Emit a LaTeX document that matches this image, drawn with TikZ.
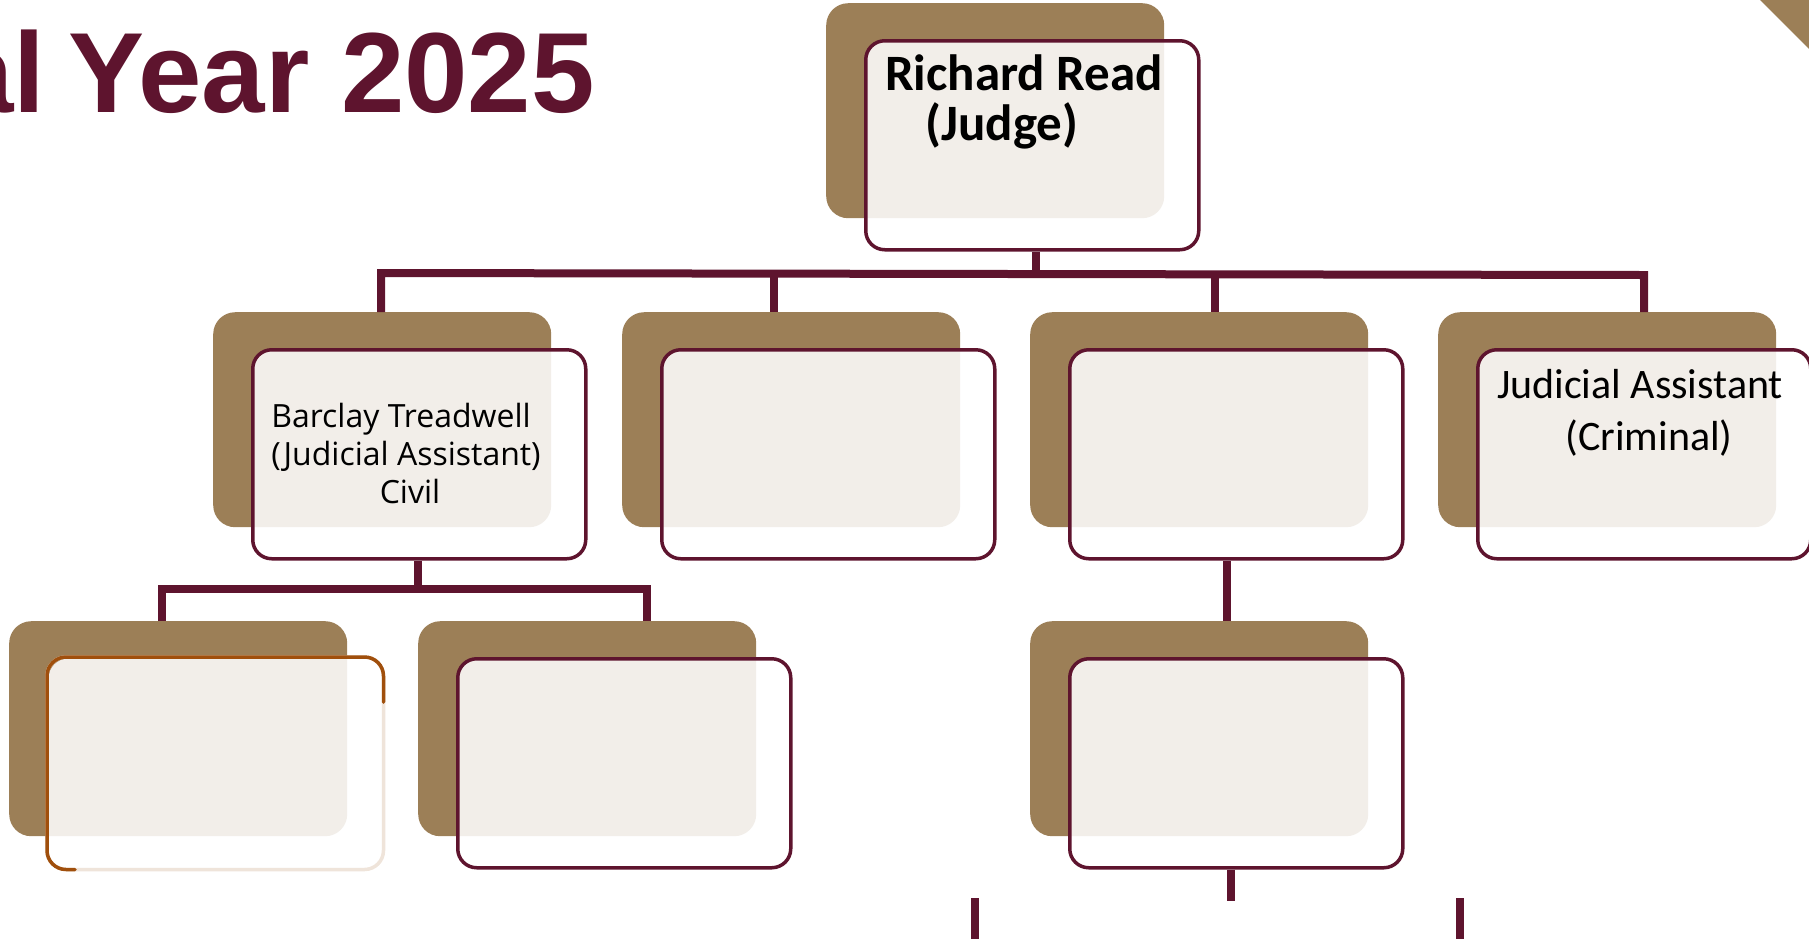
\documentclass[tikz,border=0pt]{standalone}
\usepackage{fontspec}
\newfontfamily\calib{Carlito}
\newfontfamily\opens{Open Sans}
\newfontfamily\titlef{Liberation Sans}
\definecolor{maroon}{HTML}{5E142E}
\definecolor{tan}{HTML}{9C7F57}
\definecolor{rust}{HTML}{A04F0C}
\definecolor{pale}{HTML}{EFE4DA}
\tikzset{
  bgbox/.style={fill=tan, draw=none, rounded corners=22pt, minimum width=338pt, minimum height=215pt, inner sep=0pt, anchor=north west},
  fgbox/.style={fill=white, fill opacity=0.87, draw=maroon, draw opacity=1, line width=3.5pt, rounded corners=19pt, minimum width=333pt, minimum height=209pt, inner sep=0pt, anchor=north west},
  conn/.style={draw=maroon, line width=8pt},
  lbl/.style={anchor=base, inner sep=0pt, text=black},
}
\newcommand{\chartbox}[3]{%
  \node[bgbox] (#1bg) at (#2,#3) {};
  \node[fgbox] (#1) at (#2+38,#3+36) {};
}
\begin{document}
\begin{tikzpicture}[x=1pt,y=-1pt]
\useasboundingbox (0,0) rectangle (1809,938);
\clip (0,0) rectangle (1809,938);
% title
\node[anchor=base east, inner sep=0pt, text=maroon, font=\titlef\bfseries\fontsize{114}{120}\selectfont] (title) at (595,112) {al\hspace{23pt}Year 2025};
% corner triangle
\fill[tan] (1760,0) -- (1809,0) -- (1809,49) -- cycle;
% coordinates for connectors
\coordinate (topstem) at (1036,273);
\coordinate (v1) at (381,273);
\coordinate (v2) at (774,274);
\coordinate (v3) at (1215,274);
\coordinate (v4) at (1644,275);
\coordinate (l3stem) at (418,589);
\coordinate (l3a) at (162,589);
\coordinate (l3b) at (647,589);
\coordinate (s3) at (1227,561);
\coordinate (s4) at (1231,901);
\coordinate (barA) at (975,898);
\coordinate (barB) at (1460,898);
% boxes
\chartbox{top}{826}{3}
\chartbox{b1}{213}{312}
\chartbox{b2}{622}{312}
\chartbox{b3}{1030}{312}
\chartbox{b4}{1438}{312}
\node[bgbox] (c1bg) at (9,621) {};
\node[bgbox] (c2bg) at (418,621) {};
\node[fgbox] (c2) at (456,657) {};
\chartbox{c3}{1030}{621}
% special box c1 with fading outline
\node[fgbox, draw=none] (c1) at (47,657) {};
\draw[pale, line width=3.5pt, rounded corners=19pt] (c1.north west) rectangle (c1.south east);
\draw[rust, line width=3.5pt, line cap=round, rounded corners=19pt]
  ([xshift=28pt]c1.south west) -- (c1.south west) -- (c1.north west) -- (c1.north east) -- ([yshift=-45pt]c1.north east);
% connectors
\draw[conn] (v1 |- b1bg.north) -- (v1) -- (v4) -- (v4 |- b4bg.north);
\draw[conn] (v2) -- (v2 |- b2bg.north);
\draw[conn] (v3) -- (v3 |- b3bg.north);
\draw[conn] (topstem |- top.south) -- (topstem);
\draw[conn] (l3a |- c1bg.north) -- (l3a) -- (l3b) -- (l3b |- c2bg.north);
\draw[conn] (l3stem |- b1.south) -- (l3stem);
\draw[conn] (s3) -- (s3 |- c3bg.north);
\draw[conn] (s4 |- c3.south) -- (s4);
\draw[conn] (barA) -- ++(0,45);
\draw[conn] (barB) -- ++(0,45);
% labels
\node[lbl, font=\calib\bfseries\fontsize{51}{60}\selectfont] (rr1) at (1024,90) {Richard Read};
\node[lbl, font=\calib\bfseries\fontsize{51}{60}\selectfont] (rr2) at (1002,140) {(Judge)};
\node[lbl, font=\opens\fontsize{32}{38}\selectfont] (bt1) at (401,427) {Barclay Treadwell};
\node[lbl, font=\opens\fontsize{32}{38}\selectfont] (bt2) at (406,465) {(Judicial Assistant)};
\node[lbl, font=\opens\fontsize{32}{38}\selectfont] (bt3) at (410,503) {Civil};
\node[lbl, font=\calib\fontsize{42}{51}\selectfont] (ja1) at (1640,398) {Judicial Assistant};
\node[lbl, font=\calib\fontsize{42}{51}\selectfont] (ja2) at (1649,450) {(Criminal)};
\end{tikzpicture}
\end{document}
